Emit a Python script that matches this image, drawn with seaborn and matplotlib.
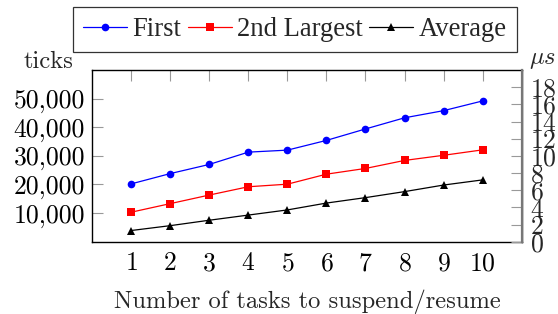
import matplotlib
matplotlib.use("Agg")
import matplotlib.pyplot as plt
import matplotlib.ticker as mticker
import seaborn as sns
import pandas as pd

tasks = [1, 2, 3, 4, 5, 6, 7, 8, 9, 10]
first = [20200, 23800, 27000, 31300, 32000, 35400, 39400, 43300, 45800, 49200]
second_largest = [10300, 13300, 16300, 19200, 20100, 23600, 25600, 28400, 30200, 32100]
average = [3900, 5600, 7500, 9300, 11100, 13500, 15400, 17500, 19800, 21600]
left_ticks = [10000, 20000, 30000, 40000, 50000]
right_ticks = [0, 2, 4, 6, 8, 10, 12, 14, 16, 18]

sns.set_theme(style="white")
plt.rcParams["font.family"] = ["cmr10", "DejaVu Serif"]
plt.rcParams["mathtext.fontset"] = "cm"
plt.rcParams["axes.formatter.use_mathtext"] = True
plt.rcParams["axes.unicode_minus"] = False

fs = 18.5
fs_lab = 17.7
fs_leg = 19.2
fig = plt.figure(figsize=(5.58, 3.14), dpi=100)
ax = fig.add_axes([0.165, 0.2303, 0.935 - 0.165, 0.777 - 0.2303])

df = pd.DataFrame({"task": tasks, "First": first, "2nd Largest": second_largest, "Average": average})
series = [("First", "#0000ff", "o", 5.5), ("2nd Largest", "#ff0000", "s", 5.5), ("Average", "black", "^", 5.5)]
for name, col, mk, ms in series:
    sns.lineplot(data=df, x="task", y=name, ax=ax, color=col, marker=mk, markersize=ms,
                 markeredgewidth=0, linewidth=0.9, label=name, legend=False)

ax.set_xlim(0, 11)
ax.set_ylim(0, 60000)
ax.set_xticks(tasks)
ax.set_yticks(left_ticks)
ax.yaxis.set_major_formatter(mticker.FuncFormatter(lambda v, p: f"{int(v):,}"))
ax.tick_params(axis="both", direction="in", length=8, width=0.8, color="#999999",
               labelsize=fs, pad=5, top=True, labelcolor="black")
ax.tick_params(axis="x", pad=7)
ax.set_xlabel("Number of tasks to suspend/resume", fontsize=fs_lab, labelpad=10)
ax.set_ylabel("")
for s in ax.spines.values():
    s.set_color("black")
    s.set_linewidth(1.0)

ax2 = ax.twinx()
ax2.set_ylim(0, 20)
ax2.set_yticks(right_ticks)
ax2.tick_params(axis="y", direction="in", length=8, width=0.8, color="#999999",
                labelsize=fs, pad=6)
for s in ax2.spines.values():
    s.set_visible(False)
ax2.spines["right"].set_visible(True)
ax2.spines["right"].set_color("#777777")
ax2.spines["right"].set_linewidth(1.6)

fig.text(0.087, 1 - 68 / 314, "ticks", fontsize=fs_lab, ha="center", va="baseline")
fig.text(0.973, 1 - 64 / 314, r"$\mu s$", fontsize=fs_lab, ha="center", va="baseline")

h, l = ax.get_legend_handles_labels()
leg = fig.legend(h, l, loc="upper center", bbox_to_anchor=(0.528, 0.977), ncol=3,
                 prop={"family": "Liberation Serif", "size": fs_leg},
                 frameon=True, fancybox=False, edgecolor="black",
                 handlelength=1.65, handletextpad=0.2, columnspacing=0.25,
                 borderpad=0.38, borderaxespad=0)
leg.get_frame().set_linewidth(0.9)

fig.savefig("out.png", dpi=100)
